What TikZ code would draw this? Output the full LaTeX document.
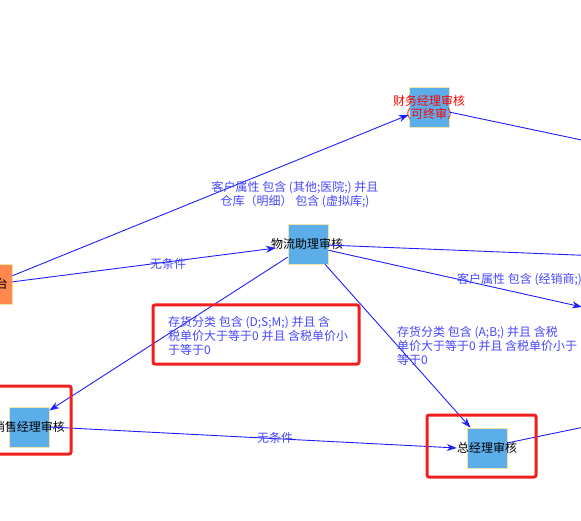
\documentclass[tikz,border=0pt]{standalone}
\usepackage{fontspec}
\setmainfont{Noto Sans CJK SC}
\usetikzlibrary{arrows.meta,calc}
\definecolor{edgeblue}{RGB}{30,30,255}
\definecolor{lblblue}{RGB}{70,70,255}
\definecolor{boxblue}{RGB}{92,174,234}
\definecolor{boxedge}{RGB}{238,228,170}
\definecolor{startorange}{RGB}{255,136,78}
\definecolor{hired}{RGB}{242,30,30}
\begin{document}
\begin{tikzpicture}[x=1pt,y=-1pt,
  stepnode/.style={draw=boxedge, fill=boxblue, minimum width=40pt, minimum height=40pt, inner sep=0pt, line width=0.8pt},
  startnode/.style={stepnode, fill=startorange},
  nodetext/.style={font=\fontsize{12}{13}\selectfont, inner sep=0pt, text=black},
  flow/.style={draw=edgeblue, line width=0.9pt, -{Stealth[length=10pt,width=7pt]}},
  plainedge/.style={draw=edgeblue, line width=0.9pt},
  cond/.style={font=\fontsize{12}{14}\selectfont, text=lblblue, inner sep=0pt},
  hilite/.style={draw=hired, line width=3pt, rounded corners=2pt}]

\useasboundingbox (0,0) rectangle (581,521);
\clip (0,0) rectangle (581,521);

% step boxes
\node[startnode] (st) at (-8,284) {};
\node[stepnode] (cw) at (429,107) {};
\node[stepnode] (wl) at (308,244) {};
\node[stepnode] (xs) at (29,427) {};
\node[stepnode] (zj) at (487,448) {};

% step texts
\node[nodetext, anchor=east] (stt) at (8,284) {台};
\node[nodetext, text=red, align=center] (cwt) at (429,107) {财务经理审核\\（可终审）};
\node[nodetext] (wlt) at (307,244) {物流助理审核};
\node[nodetext] (xst) at (29,427) {销售经理审核};
\node[nodetext] (zjt) at (487,448) {总经理审核};

% targets beyond the right border
\coordinate (r1) at (700,165);
\coordinate (r2) at (700,260);
\coordinate (r3) at (582,307);
\coordinate (r4) at (700,403);

% connectors
\draw[flow] (st.22) -- (cw.201);
\draw[flow] (st.6) -- ($(wlt.west)+(5,4)$);
\draw[plainedge] (cw.-14) -- (r1);
\draw[plainedge] (wl.-3) -- (r2);
\draw[flow] (wl.-17) -- (r3);
\draw[flow] (wl.213) -- (xs.39);
\draw[flow] (wl.-50) -- (zj.129);
\draw[flow] (xs.east) -- (zjt.west);
\draw[plainedge] (zj.14) -- (r4);

% condition labels
\node[cond, align=center] (c1) at (295,195) {客户属性 包含 (其他;医院;) 并且\\仓库（明细） 包含 (虚拟库;)};
\node[cond] (c2) at (168,264) {无条件};
\node[cond, anchor=west] (c3) at (457,280) {客户属性 包含 (经销商;)};
\node[cond, anchor=west, align=left] (c4) at (168,336) {存货分类 包含 (D;S;M;) 并且 含\\税单价大于等于0 并且 含税单价小\\于等于0};
\node[cond, anchor=west, align=left] (c5) at (397,346) {存货分类 包含 (A;B;) 并且 含税\\单价大于等于0 并且 含税单价小于\\等于0};
\node[cond] (c6) at (275,438) {无条件};

% highlight frames
\draw[hilite] (153,305) rectangle (359,364);
\draw[hilite] (-5,386) rectangle (71,454);
\draw[hilite] (427,415) rectangle (536,477);
\end{tikzpicture}
\end{document}
